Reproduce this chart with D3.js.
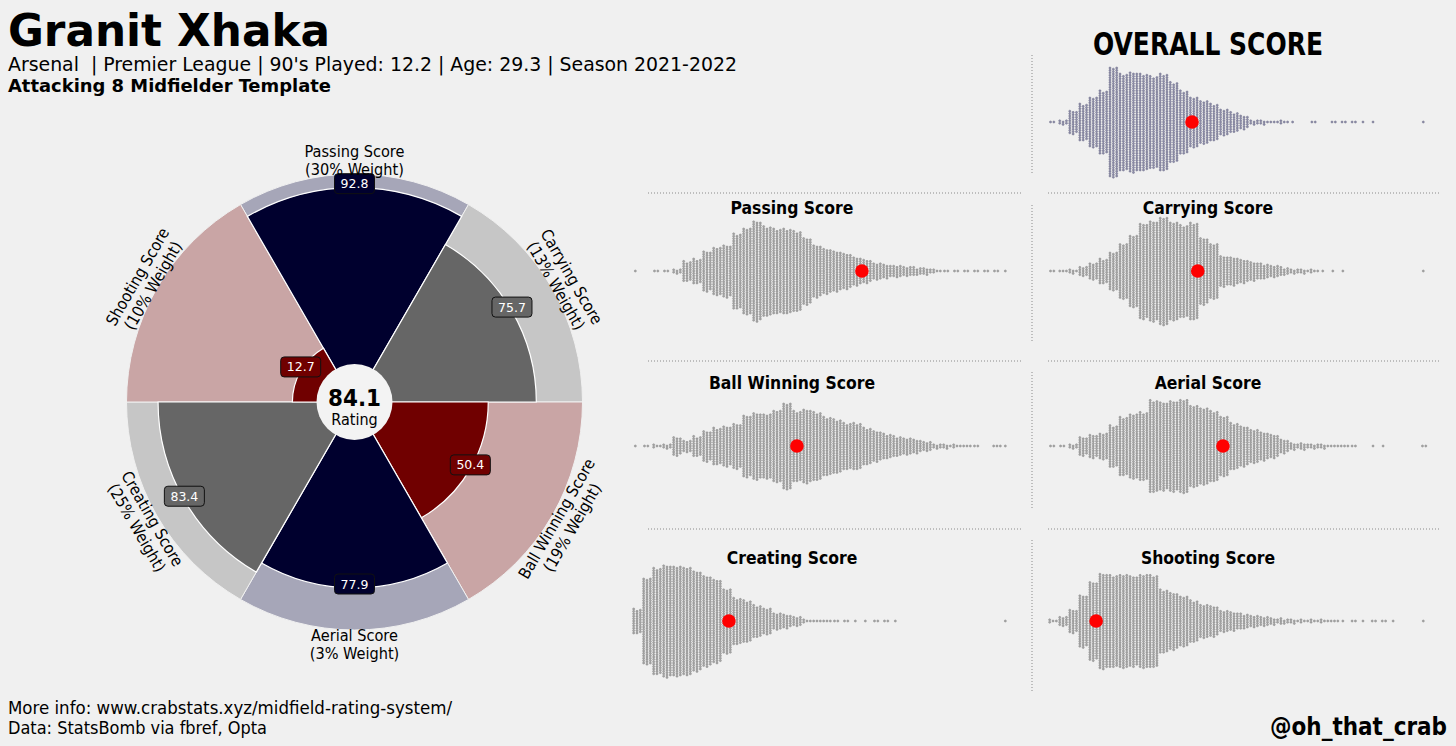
<!DOCTYPE html>
<html><head><meta charset="utf-8">
<script src="https://cdn.jsdelivr.net/npm/d3@7"></script>
<style>
html,body{margin:0;padding:0;background:#f0f0f0;}
svg{display:block;}
</style></head>
<body><svg id="chart" width="1456" height="746"></svg>
<script>
// ---------------- DATA ----------------
const playerName = "Granit Xhaka";
const subtitle = "Arsenal  | Premier League | 90's Played: 12.2 | Age: 29.3 | Season 2021-2022";
const templateName = "Attacking 8 Midfielder Template";
const overallRating = 84.1;

// pizza slices, clockwise from top
const categories = ["Passing Score","Carrying Score","Ball Winning Score","Aerial Score","Creating Score","Shooting Score"];
const weights = [30, 13, 19, 3, 25, 10];
const scores = [92.8, 75.7, 50.4, 77.9, 83.4, 12.7];
const sliceColors = ["#00002e","#666666","#700000","#00002e","#666666","#700000"];
const bgColors = ["#a6a6b8","#c6c6c6","#c9a5a5","#a6a6b8","#c6c6c6","#c9a5a5"];

// swarm plots: dots per bin (38 equal bins along each metric's axis)
const swarmBins = 38;
const overallSwarm = [2,6,29,46,63,79,138,121,125,121,115,121,100,79,63,54,46,33,25,17,6,5,3,4,1,0,2,0,2,2,2,1,1,0,0,0,0,1];
const passingSwarm = [1,0,2,2,6,25,31,50,60,65,94,108,125,112,106,106,100,83,65,56,50,44,35,29,21,17,15,12,10,8,4,2,2,2,2,2,2,1];
const carryingSwarm = [2,3,5,12,21,31,48,69,90,119,125,135,123,115,121,83,69,38,35,29,23,19,15,10,6,5,4,1,1,1,0,0,0,0,0,0,0,1];
const ballWinningSwarm = [1,2,4,6,23,15,25,38,46,50,56,77,83,81,90,108,88,92,85,73,67,58,58,46,38,31,25,21,17,12,6,5,4,3,2,0,3,1];
const aerialSwarm = [2,2,6,23,29,33,52,73,81,85,115,110,113,117,102,96,88,75,58,50,42,35,29,17,8,8,6,5,3,3,2,0,1,1,0,0,0,2];
const creatingSwarm = [31,108,133,140,138,135,125,113,104,81,58,52,40,33,21,17,12,4,3,3,2,2,1,1,2,2,1,0,0,0,0,0,0,0,0,0,0,1];
const shootingSwarm = [4,12,29,65,98,119,115,117,113,117,115,79,71,63,52,42,38,27,23,19,15,12,8,7,5,4,4,4,3,1,2,1,2,2,1,0,0,1];
// player's position on each swarm axis (0-100 of the axis extent)
const playerPositions = {overall: 37.7, passing: 60.5, carrying: 39.2, ballWinning: 43.4, aerial: 45.8, creating: 25.5, shooting: 12.6};

// ---------------- DRAW ----------------
const svg = d3.select("#chart");
const W = 1456, H = 746;
svg.append("rect").attr("width", W).attr("height", H).attr("fill", "#f0f0f0");
const FONT = "'Liberation Sans Narrow','DejaVu Sans Condensed','Roboto',sans-serif";

function addText(x, y, str, o) {
  const t = svg.append("text").attr("x", x).attr("y", y).text(str)
    .attr("font-family", FONT).attr("font-size", o.size)
    .attr("font-weight", o.weight || "normal")
    .attr("text-anchor", o.anchor || "start")
    .attr("fill", o.fill || "#000")
    .style("white-space", "pre");
  if (o.width) t.attr("textLength", o.width).attr("lengthAdjust", "spacingAndGlyphs");
  return t;
}
// measure helper for font sizing
function fitSize(str, weight, target) {
  const t = svg.append("text").attr("font-family", FONT).attr("font-size", 20).attr("font-weight", weight).text(str);
  const w = t.node().getComputedTextLength(); t.remove();
  return 20 * target / w;
}

// Titles
addText(8, 46, playerName, {size: 45, weight: "bold", width: 322});
addText(8, 71, subtitle, {size: 19, width: 729});
addText(8, 92, templateName, {size: 18, weight: "bold", width: 323});
addText(8, 714, "More info: www.crabstats.xyz/midfield-rating-system/", {size: 17, width: 444});
addText(8, 734, "Data: StatsBomb via fbref, Opta", {size: 17, width: 259});
addText(1447, 735, "@oh_that_crab", {size: 24, weight: "bold", anchor: "end", width: 177});
addText(1208, 55, "OVERALL SCORE", {size: 32, weight: "bold", anchor: "middle", width: 230});

// ---------------- PIZZA ----------------
const cx = 354.5, cy = 402;
const rScale = d3.scaleLinear().domain([0, 100]).range([38, 228]);
const step = 2 * Math.PI / categories.length;
const pie = svg.append("g").attr("transform", `translate(${cx},${cy})`);
const arc = d3.arc();
categories.forEach((c, i) => {
  const a0 = i * step - step / 2, a1 = i * step + step / 2;
  pie.append("path").attr("d", arc({innerRadius: 0, outerRadius: rScale(100), startAngle: a0, endAngle: a1}))
    .attr("fill", bgColors[i]).attr("stroke", "#f0f0f0").attr("stroke-width", 1);
});
categories.forEach((c, i) => {
  const a0 = i * step - step / 2, a1 = i * step + step / 2;
  pie.append("path").attr("d", arc({innerRadius: 0, outerRadius: rScale(scores[i]), startAngle: a0, endAngle: a1}))
    .attr("fill", sliceColors[i]).attr("stroke", "#ffffff").attr("stroke-width", 1.2);
});
pie.append("circle").attr("r", 38).attr("fill", "#f3f3f3");
pie.append("text").attr("y", 4).attr("text-anchor", "middle").attr("font-family", FONT)
  .attr("font-weight", "bold").attr("font-size", Math.min(24, fitSize("84.1", "bold", 53))).text(overallRating.toFixed(1));
pie.append("text").attr("y", 23).attr("text-anchor", "middle").attr("font-family", FONT)
  .attr("font-size", Math.min(16, fitSize("Rating", "normal", 50))).text("Rating");

// value boxes
categories.forEach((c, i) => {
  const a = i * step, r = rScale(scores[i]);
  const x = r * Math.sin(a), y = -r * Math.cos(a) - 4;
  const g = pie.append("g").attr("transform", `translate(${x},${y})`);
  g.append("rect").attr("x", -20).attr("y", -10).attr("width", 40).attr("height", 20).attr("rx", 3.5)
    .attr("fill", sliceColors[i]).attr("stroke", "#111").attr("stroke-width", 1);
  g.append("text").attr("y", 4.5).attr("text-anchor", "middle").attr("fill", "#fff")
    .attr("font-family", "'DejaVu Sans','Roboto',sans-serif").attr("font-size", 12.5).text(scores[i].toFixed(1));
});

// parameter labels
const labSize = fitSize("Passing Score", "normal", 100);
categories.forEach((c, i) => {
  const a = i * step, r = 242;
  const deg = a * 180 / Math.PI;
  const rot = (deg > 90 && deg < 270) ? deg - 180 : deg;
  const g = pie.append("g").attr("transform", `translate(${r * Math.sin(a)},${-r * Math.cos(a)}) rotate(${rot})`);
  const t = g.append("text").attr("text-anchor", "middle").attr("font-family", FONT).attr("font-size", labSize);
  t.append("tspan").attr("x", 0).attr("y", -3).text(c);
  t.append("tspan").attr("x", 0).attr("y", 15).text(`(${weights[i]}% Weight)`);
});

// ---------------- SWARMS ----------------
const leftRange = [632, 1012], rightRange = [1048, 1430];
const panels = [
  {key: "overall", data: overallSwarm, range: rightRange, cy: 122, title: null, overall: true},
  {key: "passing", data: passingSwarm, range: leftRange, cy: 271, title: "Passing Score"},
  {key: "carrying", data: carryingSwarm, range: rightRange, cy: 271, title: "Carrying Score"},
  {key: "ballWinning", data: ballWinningSwarm, range: leftRange, cy: 446, title: "Ball Winning Score"},
  {key: "aerial", data: aerialSwarm, range: rightRange, cy: 446, title: "Aerial Score"},
  {key: "creating", data: creatingSwarm, range: leftRange, cy: 621, title: "Creating Score"},
  {key: "shooting", data: shootingSwarm, range: rightRange, cy: 621, title: "Shooting Score"}
];
const titleSize = fitSize("Passing Score", "bold", 123);
const vs = 2.4;
panels.forEach(p => {
  const x = d3.scaleLinear().domain([0, 100]).range(p.range);
  const bw = 100 / swarmBins;
  const dots = [];
  p.data.forEach((n, b) => {
    if (!n) return;
    const cols = Math.min(3, n);
    for (let c = 0; c < cols; c++) {
      const m = Math.floor(n / cols) + (c < n % cols ? 1 : 0);
      const xv = b * bw + (c + 0.5) * bw / 3 + (cols < 3 ? bw / 6 * (3 - cols) / 2 : 0);
      const stagger = (c % 2) * vs / 2;
      for (let k = 0; k < m; k++) {
        dots.push({x: xv, dy: (k - (m - 1) / 2) * vs + (m > 1 ? stagger : 0)});
      }
    }
  });
  const g = svg.append("g");
  g.selectAll("circle").data(dots).join("circle")
    .attr("cx", d => x(d.x)).attr("cy", d => p.cy + d.dy).attr("r", 1.05)
    .attr("fill", p.overall ? "#9090ad" : "#a9a9a9")
    .attr("stroke", p.overall ? "#62627e" : "#7c7c7c").attr("stroke-width", 0.45);
  g.append("circle").attr("cx", x(playerPositions[p.key])).attr("cy", p.cy).attr("r", 6.8).attr("fill", "#ff0000");
  if (p.title) {
    const tx = p.range === leftRange ? 792 : 1208;
    const ty = p.cy - 57;
    addText(tx, ty, p.title, {size: titleSize, weight: "bold", anchor: "middle"});
  }
});

// dotted separators
const sep = svg.append("g").attr("stroke", "#8a8a8a").attr("stroke-width", 1).attr("stroke-dasharray", "1,2");
[193, 361, 529].forEach(y => {
  sep.append("line").attr("x1", 648).attr("x2", 1023).attr("y1", y).attr("y2", y);
  sep.append("line").attr("x1", 1048).attr("x2", 1440).attr("y1", y).attr("y2", y);
});
[[55, 175], [205, 341], [372, 510], [540, 692]].forEach(([y1, y2]) => {
  sep.append("line").attr("x1", 1032).attr("x2", 1032).attr("y1", y1).attr("y2", y2);
});
</script></body></html>
